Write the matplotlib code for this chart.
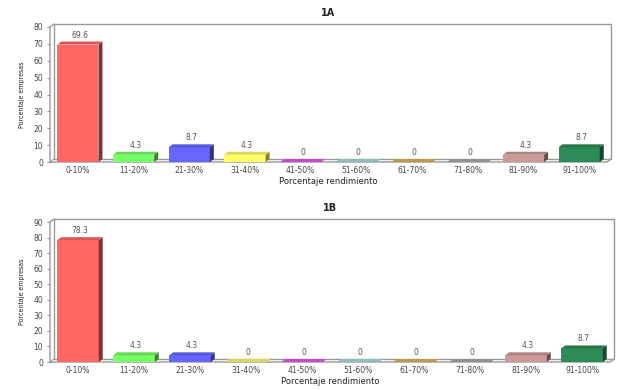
import matplotlib
matplotlib.use("Agg")
import matplotlib.pyplot as plt
import matplotlib.colors as mcolors
import numpy as np

# Data
categories = ["0-10%", "11-20%", "21-30%", "31-40%", "41-50%",
              "51-60%", "61-70%", "71-80%", "81-90%", "91-100%"]
values_1a = [69.6, 4.3, 8.7, 4.3, 0, 0, 0, 0, 4.3, 8.7]
values_1b = [78.3, 4.3, 4.3, 0, 0, 0, 0, 0, 4.3, 8.7]
titles = ["1A", "1B"]
ymax_list = [80, 90]
bar_colors = ["#FF6666", "#77FF66", "#6666FF", "#FFFF66", "#EE55EE",
              "#AADDDD", "#DDB855", "#AAAAAA", "#CC9999", "#2E8B57"]

W, H = 644, 390
fig = plt.figure(figsize=(W / 100, H / 100), dpi=100)
fig.patch.set_facecolor("white")

DEPTH_X, DEPTH_Y = 4, 3  # pixels
BAR_W = 0.74
TXT = "#444444"
FRAME = "#999999"


def shade(c, f):
    r, g, b = mcolors.to_rgb(c)
    return (r * f, g * f, b * f)


def draw_panel(rect, values, title, ymax):
    ax = fig.add_axes(rect)
    n = len(values)
    xmin, xmax = -0.5, n - 0.5
    ax.set_xlim(xmin, xmax)
    ax.set_ylim(0, ymax)
    # depth in data units
    wpx = rect[2] * W
    hpx = rect[3] * H
    dx = DEPTH_X * (xmax - xmin) / wpx
    dy = DEPTH_Y * ymax / hpx

    for s in ax.spines.values():
        s.set_visible(False)
    ax.set_facecolor("none")

    # back wall
    ax.add_patch(plt.Rectangle((xmin + dx, dy), xmax - xmin, ymax,
                               facecolor="white", edgecolor=FRAME,
                               lw=1.0, clip_on=False, zorder=0))
    # left wall / floor edges
    ax.plot([xmin, xmin, xmin + dx], [0, ymax, ymax + dy], color=FRAME,
            lw=1.0, clip_on=False, zorder=1)
    ax.plot([xmin, xmax, xmax + dx], [0, 0, dy], color=FRAME,
            lw=1.0, clip_on=False, zorder=1)
    ax.plot([xmin, xmin + dx], [0, dy], color=FRAME, lw=0.8,
            clip_on=False, zorder=1)

    x = np.arange(n)
    ax.bar(x, values, width=BAR_W, color=bar_colors, zorder=3,
           linewidth=0)
    for xi, v, c in zip(x, values, bar_colors):
        l, r = xi - BAR_W / 2, xi + BAR_W / 2
        ax.fill([r, r + dx, r + dx, r], [0, dy, v + dy, v],
                color=shade(c, 0.5), zorder=3, lw=0, clip_on=False)
        ax.fill([l, l + dx, r + dx, r], [v, v + dy, v + dy, v],
                color=shade(c, 0.85), zorder=3, lw=0, clip_on=False)
        lab = "0" if v == 0 else f"{v:.1f}"
        ax.text(xi + dx / 2, v + dy + ymax * 0.015, lab, ha="center",
                va="bottom", fontsize=5.5, color="#555555", zorder=4)

    ax.set_xticks(x)
    ax.set_xticklabels(categories)
    ax.set_yticks(np.arange(0, ymax + 1, 10))
    ax.tick_params(axis="x", length=0, labelsize=5.5, labelcolor=TXT, pad=3)
    ax.tick_params(axis="y", length=2, color=FRAME, labelsize=5.5,
                   labelcolor=TXT, pad=3)
    ax.set_xlabel("Porcentaje rendimiento", fontsize=6, color="#222222",
                  labelpad=1)
    ax.set_ylabel("Porcentaje empresas", fontsize=5, color="#222222",
                  fontstretch="condensed", labelpad=6)
    ax.set_title(title, fontsize=7, fontweight="bold", color="#222222",
                 pad=8)
    return ax


draw_panel([50 / W, (H - 162) / H, 557 / W, 135 / H], values_1a,
           titles[0], ymax_list[0])
draw_panel([50 / W, (H - 362) / H, 560 / W, 140 / H], values_1b,
           titles[1], ymax_list[1])

fig.savefig("out.png", dpi=100)
